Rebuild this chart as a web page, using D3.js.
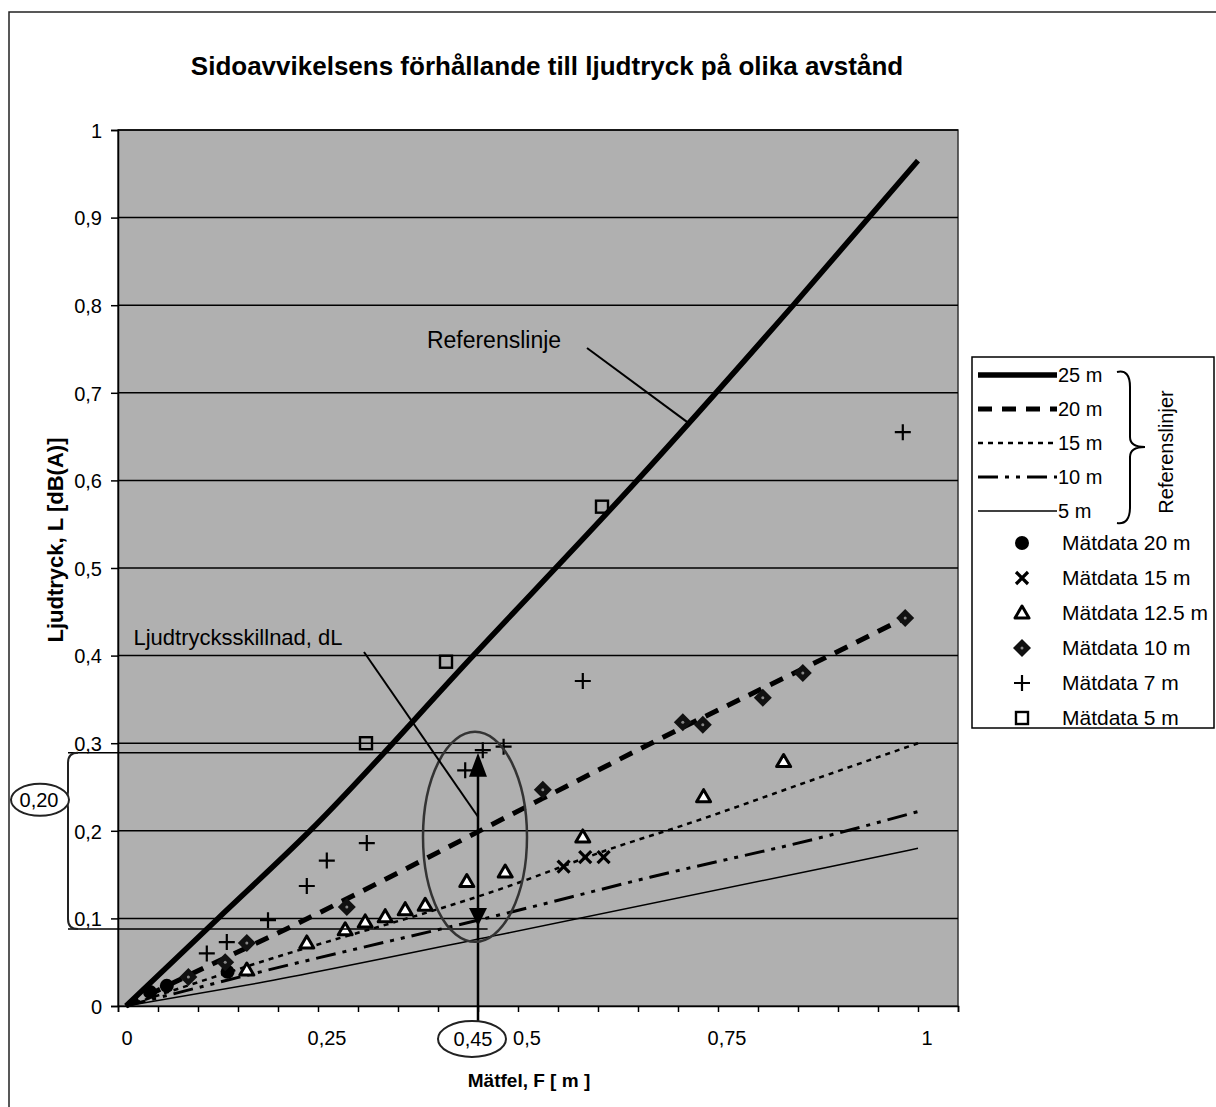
<!DOCTYPE html>
<html>
<head>
<meta charset="utf-8">
<script src="https://cdn.jsdelivr.net/npm/d3@7"></script>
<style>
  body { margin: 0; background: #fff; }
  text { font-family: "Liberation Sans", Arial, sans-serif; fill: #000; }
</style>
</head>
<body>
<svg id="chart"></svg>
<script>
// axis ticks
var xMajorTicks = [0, 0.25, 0.5, 0.75, 1];
var xMinorTicks = [0, 0.05, 0.1, 0.15, 0.2, 0.25, 0.3, 0.35, 0.4, 0.45, 0.5, 0.55, 0.6, 0.65, 0.7, 0.75, 0.8, 0.85, 0.9, 0.95, 1, 1.05];
var yTicks = [0, 0.1, 0.2, 0.3, 0.4, 0.5, 0.6, 0.7, 0.8, 0.9, 1];

// reference lines (Referenslinjer) [x, y]
var ref25m = [[0.01, 0], [0.125, 0.1], [0.24, 0.2], [0.444, 0.4], [0.649, 0.6], [0.844, 0.8], [1.0, 0.965]];
var ref20m = [[0.01, 0], [0.111, 0.045], [0.215, 0.09], [0.365, 0.159], [0.531, 0.237], [0.706, 0.318], [0.865, 0.389], [0.984, 0.443]];
var ref15m = [[0.01, 0], [0.174, 0.049], [0.486, 0.136], [0.624, 0.182], [0.699, 0.204], [0.8775, 0.261], [1.0, 0.3]];
var ref10m = [[0.01, 0], [0.174, 0.038], [0.486, 0.106], [0.665, 0.147], [0.89, 0.195], [1.0, 0.222]];
var ref5m = [[0.01, 0], [0.174, 0.026], [0.486, 0.083], [0.89, 0.159], [1.0, 0.18]];

// measured data (Mätdata) [x, y]
var data20m = [[0.04, 0.016], [0.061, 0.023], [0.137, 0.039]];
var data15m = [[0.557, 0.159], [0.584, 0.17], [0.607, 0.17]];
var data12_5m = [[0.161, 0.041], [0.236, 0.072], [0.284, 0.087], [0.309, 0.096], [0.334, 0.102], [0.359, 0.11], [0.384, 0.115], [0.436, 0.142], [0.484, 0.153], [0.581, 0.193], [0.732, 0.239], [0.832, 0.279]];
var data10m = [[0.088, 0.033], [0.134, 0.05], [0.161, 0.072], [0.286, 0.113], [0.531, 0.247], [0.706, 0.324], [0.731, 0.321], [0.806, 0.352], [0.856, 0.38], [0.984, 0.443]];
var data7m = [[0.111, 0.06], [0.136, 0.073], [0.1875, 0.098], [0.236, 0.137], [0.261, 0.166], [0.311, 0.186], [0.434, 0.269], [0.456, 0.292], [0.482, 0.296], [0.581, 0.371], [0.981, 0.655]];
var data5m = [[0.31, 0.3], [0.41, 0.393], [0.605, 0.57]];

// annotation values
var dLTop = 0.289, dLBottom = 0.088, dLx = 0.45;

var refLabels = ["25 m", "20 m", "15 m", "10 m", "5 m"];
var dataLabels = ["Mätdata 20 m", "Mätdata 15 m", "Mätdata 12.5 m", "Mätdata 10 m", "Mätdata 7 m", "Mätdata 5 m"];

var width = 1216, height = 1107;
var margin = {top: 130, left: 118, right: 258, bottom: 101};
var chartWidth = width - margin.left - margin.right;
var chartHeight = height - margin.top - margin.bottom;

var svg = d3.select('#chart')
    .attr('width', width)
    .attr('height', height);

svg.append('rect').attr('width', width).attr('height', height).attr('fill', '#fff');

// outer frame of the scanned chart
svg.append('path')
    .attr('d', 'M9,' + height + 'V12H' + width)
    .attr('fill', 'none').attr('stroke', '#222').attr('stroke-width', 1.5);

var chartArea = svg.append('g')
    .attr('transform', `translate(${margin.left},${margin.top})`);

var xScale = d3.scaleLinear().domain([0, 1.05]).range([0, chartWidth]);
var yScale = d3.scaleLinear().domain([0, 1]).range([chartHeight, 0]);

var fmt = function (d) { return String(+d.toFixed(2)).replace('.', ','); };

// plot background
chartArea.append('rect')
    .attr('width', chartWidth).attr('height', chartHeight)
    .attr('fill', '#b0b0b0')
    .attr('stroke', '#333').attr('stroke-width', 1.5);

// grid lines
chartArea.append('g').selectAll('line')
    .data(yTicks.slice(1))
    .enter().append('line')
    .attr('x1', 0).attr('x2', chartWidth)
    .attr('y1', d => yScale(d)).attr('y2', d => yScale(d))
    .attr('stroke', '#000').attr('stroke-width', 1.5);

// y axis
var yAxis = chartArea.append('g')
    .call(d3.axisLeft(yScale).tickValues(yTicks).tickSize(7).tickPadding(9).tickFormat(fmt));
yAxis.attr('font-size', null).attr('font-family', null);
yAxis.selectAll('text').attr('font-size', 20).attr('dy', '0.36em');
yAxis.selectAll('line, path').attr('stroke', '#000').attr('stroke-width', 1.5);

// x axis: minor ticks then labels
var xAxis = chartArea.append('g')
    .attr('transform', `translate(0,${chartHeight})`)
    .call(d3.axisBottom(xScale).tickValues(xMinorTicks).tickSize(6).tickFormat(''));
xAxis.selectAll('line, path').attr('stroke', '#000').attr('stroke-width', 1.5);

chartArea.append('g').selectAll('text')
    .data(xMajorTicks)
    .enter().append('text')
    .attr('x', d => xScale(d) + 9)
    .attr('y', chartHeight + 39)
    .attr('text-anchor', 'middle')
    .attr('font-size', 20)
    .text(fmt);

// reference lines
var line = d3.line()
    .x(d => xScale(d[0]))
    .y(d => yScale(d[1]))
    .curve(d3.curveMonotoneX);

var refStyles = [
    {data: ref25m, width: 5.5, dash: null},
    {data: ref20m, width: 5, dash: '14,10'},
    {data: ref15m, width: 2.5, dash: '5,5'},
    {data: ref10m, width: 3, dash: '20,7,4,7,4,7'},
    {data: ref5m, width: 1.5, dash: null}
];

refStyles.slice().reverse().forEach(function (s) {
    chartArea.append('path')
        .datum(s.data)
        .attr('fill', 'none')
        .attr('stroke', '#000')
        .attr('stroke-width', s.width)
        .attr('stroke-dasharray', s.dash)
        .attr('d', line);
});

// markers
function drawMarker(g, type) {
    if (type === 'circle') {
        g.append('circle').attr('r', 7).attr('fill', '#000');
    } else if (type === 'x') {
        g.append('path').attr('d', 'M-6,-6L6,6M-6,6L6,-6')
            .attr('stroke', '#000').attr('stroke-width', 3.2);
    } else if (type === 'triangle') {
        g.append('path').attr('d', 'M0,-7L7,5L-7,5Z')
            .attr('fill', '#fff').attr('stroke', '#000').attr('stroke-width', 3).attr('stroke-linejoin', 'round');
    } else if (type === 'diamond') {
        g.append('path').attr('d', 'M0,-9L9,0L0,9L-9,0Z').attr('fill', '#111');
        g.append('circle').attr('r', 1.5).attr('fill', '#888');
    } else if (type === 'plus') {
        g.append('path').attr('d', 'M-8,0H8M0,-8V8')
            .attr('stroke', '#000').attr('stroke-width', 2.2);
    } else if (type === 'square') {
        g.append('rect').attr('x', -6).attr('y', -6).attr('width', 12).attr('height', 12)
            .attr('fill', 'none').attr('stroke', '#000').attr('stroke-width', 2.4);
    }
}

var series = [
    {data: data20m, type: 'circle'},
    {data: data15m, type: 'x'},
    {data: data12_5m, type: 'triangle'},
    {data: data10m, type: 'diamond'},
    {data: data7m, type: 'plus'},
    {data: data5m, type: 'square'}
];

series.forEach(function (s) {
    chartArea.append('g').selectAll('g')
        .data(s.data)
        .enter().append('g')
        .attr('transform', d => `translate(${xScale(d[0])},${yScale(d[1])})`)
        .each(function () { drawMarker(d3.select(this), s.type); });
});

// ---- annotations ----
var ann = chartArea.append('g');

// horizontal helper lines at dL
[dLTop, dLBottom].forEach(function (v) {
    ann.append('line')
        .attr('x1', -50).attr('x2', xScale(dLx + 0.012))
        .attr('y1', yScale(v)).attr('y2', yScale(v))
        .attr('stroke', '#000').attr('stroke-width', 1.5);
});

// vertical arrow
var ax = xScale(dLx);
ann.append('line')
    .attr('x1', ax).attr('x2', ax)
    .attr('y1', yScale(dLTop) + 10).attr('y2', chartHeight + 16)
    .attr('stroke', '#000').attr('stroke-width', 2.5);
ann.append('path')
    .attr('d', `M${ax},${yScale(dLTop)}L${ax + 9},${yScale(dLTop) + 24}L${ax - 9},${yScale(dLTop) + 24}Z`)
    .attr('fill', '#000');
ann.append('path')
    .attr('d', `M${ax},${yScale(dLBottom) - 3}L${ax + 9},${yScale(dLBottom) - 21}L${ax - 9},${yScale(dLBottom) - 21}Z`)
    .attr('fill', '#000');

// big ellipse around the arrow
ann.append('ellipse')
    .attr('cx', ax - 3).attr('cy', yScale((dLTop + dLBottom) / 2) - 4)
    .attr('rx', 52).attr('ry', 105)
    .attr('fill', 'none').attr('stroke', '#333').attr('stroke-width', 2.5);

// 0,45 label under axis
ann.append('ellipse')
    .attr('cx', ax - 6).attr('cy', chartHeight + 33)
    .attr('rx', 34).attr('ry', 18)
    .attr('fill', '#fff').attr('stroke', '#222').attr('stroke-width', 2);
ann.append('text')
    .attr('x', ax - 5).attr('y', chartHeight + 40)
    .attr('text-anchor', 'middle').attr('font-size', 20)
    .text(fmt(dLx));

// left brace and 0,20 label (brace point sits above the middle)
var yT = yScale(dLTop), yB = yScale(dLBottom), yM = yT + 47;
ann.append('path')
    .attr('d', `M-40,${yT}Q-50,${yT} -50,${yT + 10}L-50,${yM - 8}Q-50,${yM} -56,${yM}Q-50,${yM} -50,${yM + 8}L-50,${yB - 10}Q-50,${yB} -40,${yB}`)
    .attr('fill', 'none').attr('stroke', '#222').attr('stroke-width', 2);
ann.append('ellipse')
    .attr('cx', -78).attr('cy', yM)
    .attr('rx', 29).attr('ry', 16)
    .attr('fill', '#fff').attr('stroke', '#222').attr('stroke-width', 2);
ann.append('text')
    .attr('x', -79).attr('y', yM + 7)
    .attr('text-anchor', 'middle').attr('font-size', 20)
    .text('0,20');

// Referenslinje callout
ann.append('text')
    .attr('x', 376).attr('y', 218)
    .attr('text-anchor', 'middle').attr('font-size', 23)
    .text('Referenslinje');
ann.append('line')
    .attr('x1', 469).attr('y1', 218)
    .attr('x2', xScale(0.7125)).attr('y2', yScale(0.666))
    .attr('stroke', '#000').attr('stroke-width', 2);

// Ljudtrycksskillnad callout
ann.append('text')
    .attr('x', 120).attr('y', 515)
    .attr('text-anchor', 'middle').attr('font-size', 22)
    .text('Ljudtrycksskillnad, dL');
ann.append('line')
    .attr('x1', 246).attr('y1', 522)
    .attr('x2', ax).attr('y2', yScale(0.216))
    .attr('stroke', '#000').attr('stroke-width', 2);

// titles
svg.append('text')
    .attr('x', 547).attr('y', 75)
    .attr('text-anchor', 'middle')
    .attr('font-size', 26).attr('font-weight', 'bold')
    .text('Sidoavvikelsens förhållande till ljudtryck på olika avstånd');

svg.append('text')
    .attr('transform', 'translate(63,540) rotate(-90)')
    .attr('text-anchor', 'middle')
    .attr('font-size', 22).attr('font-weight', 'bold')
    .text('Ljudtryck, L [dB(A)]');

svg.append('text')
    .attr('x', 529).attr('y', 1087)
    .attr('text-anchor', 'middle')
    .attr('font-size', 19).attr('font-weight', 'bold')
    .text('Mätfel, F [ m ]');

// ---- legend ----
var legend = svg.append('g').attr('transform', 'translate(972,357)');
legend.append('rect')
    .attr('width', 242).attr('height', 371)
    .attr('fill', '#fff').attr('stroke', '#000').attr('stroke-width', 1.5);

refStyles.forEach(function (s, i) {
    var y = 18 + i * 34;
    legend.append('line')
        .attr('x1', 6).attr('x2', 85).attr('y1', y).attr('y2', y)
        .attr('stroke', '#000').attr('stroke-width', s.width)
        .attr('stroke-dasharray', s.dash);
    legend.append('text')
        .attr('x', 86).attr('y', y + 7)
        .attr('font-size', 20)
        .text(refLabels[i]);
});

series.forEach(function (s, i) {
    var y = 186 + i * 35;
    var g = legend.append('g').attr('transform', `translate(50,${y})`);
    drawMarker(g, s.type);
    legend.append('text')
        .attr('x', 90).attr('y', y + 7)
        .attr('font-size', 21)
        .text(dataLabels[i]);
});

// brace for Referenslinjer
legend.append('path')
    .attr('d', 'M145,15Q158,12 158,30L158,80Q158,90 173,90Q158,90 158,100L158,150Q158,168 145,166')
    .attr('fill', 'none').attr('stroke', '#000').attr('stroke-width', 2);
legend.append('text')
    .attr('transform', 'translate(201,95) rotate(-90)')
    .attr('text-anchor', 'middle')
    .attr('font-size', 20)
    .text('Referenslinjer');
</script>
</body>
</html>
